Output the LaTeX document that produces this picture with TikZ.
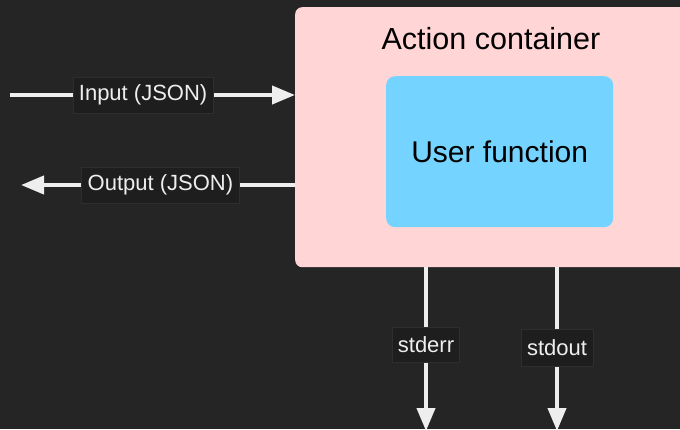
\documentclass[tikz,border=0pt]{standalone}
\usepackage{fontspec}
\setmainfont{Liberation Sans}
\usetikzlibrary{arrows.meta,positioning}
\definecolor{bgc}{HTML}{252525}
\definecolor{arrc}{HTML}{EEEEEE}
\definecolor{lblc}{HTML}{1E1E1E}
\definecolor{lbldraw}{HTML}{2E2E2E}
\definecolor{contc}{HTML}{FFD5D5}
\definecolor{userc}{HTML}{74D4FF}
\tikzset{
  conn/.style={draw=arrc, line width=4pt, -{Triangle[length=23pt,width=18pt]}},
  lbl/.style={fill=lblc, draw=lbldraw, line width=0.6pt, text=arrc, font=\fontsize{22}{25}\selectfont,
    inner xsep=6pt, inner ysep=0pt, minimum height=36pt},
  bigtxt/.style={font=\fontsize{30.5}{35}\selectfont, text=black},
}
\begin{document}
\begin{tikzpicture}[x=1pt,y=-1pt]
\fill[bgc] (0,0) rectangle (680,429);
\useasboundingbox (0,0) rectangle (680,429);
\clip (0,0) rectangle (680,429);
% container
\node[fill=contc, rounded corners=7pt, minimum width=410pt, minimum height=260pt, anchor=north west, inner sep=0pt] (container) at (295,7) {};
\node[bigtxt] (ctitle) at (491,39) {Action container};
\node[fill=userc, rounded corners=9pt, minimum width=227pt, minimum height=151pt, anchor=north west, inner sep=0pt, bigtxt, font=\fontsize{30}{35}\selectfont] (userfn) at (386,76) {User function};
% coordinates
\coordinate (inL) at (10,95);
\coordinate (inR) at (295,95);
\coordinate (outR) at (295,185);
\coordinate (outL) at (21,185);
\coordinate (errT) at (426,267);
\coordinate (errB) at (426,431);
\coordinate (outT) at (557,267);
\coordinate (outB) at (557,431);
% connectors
\draw[conn] (inL) -- (inR) node[lbl, pos=0.467] (inlbl) {Input (JSON)};
\draw[conn] (outR) -- (outL) node[lbl, pos=0.491] (outlbl) {Output (JSON)};
\draw[conn] (errT) -- (errB) node[lbl, pos=0.473, minimum height=35pt, inner xsep=5.5pt] (errlbl) {stderr};
\draw[conn] (outT) -- (outB) node[lbl, pos=0.491, minimum height=37pt, inner xsep=6pt] (stdoutlbl) {stdout};
\end{tikzpicture}
\end{document}
